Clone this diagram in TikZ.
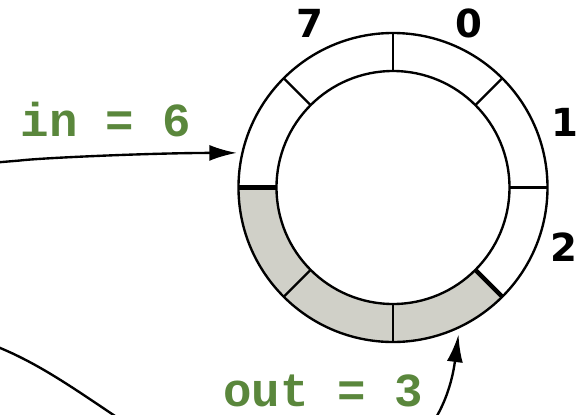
\documentclass[tikz,border=0pt]{standalone}
\usepackage{fontspec}
\usetikzlibrary{arrows.meta, calc}
\newfontfamily\ptrfont{Liberation Mono}
\newfontfamily\digitfont{DejaVu Sans}
\definecolor{bufGreen}{HTML}{5A873C}
\definecolor{bufGray}{HTML}{D0D0C8}
\tikzset{
  ringline/.style={line width=1.35pt, draw=black},
  slotedge/.style={line width=2.6pt, draw=black},
  ptrlabel/.style={font=\ptrfont\bfseries\fontsize{27}{30}\selectfont, text=bufGreen, inner sep=0pt},
  slotnum/.style={font=\digitfont\bfseries\fontsize{22}{26}\selectfont, inner sep=0pt},
  ptrflow/.style={-{Latex[length=0.55cm, width=0.32cm]}, line width=1.35pt},
}

\begin{document}
\begin{tikzpicture}[x=0.02cm, y=0.02cm]
  \useasboundingbox (0,0) rectangle (586,414);
  \coordinate (ring) at (393,226.5);
  % filled slots 3, 4 and 5
  \fill[bufGray] ($(ring)+(180:154.5)$) arc[start angle=180, end angle=315, radius=154.5]
    -- ($(ring)+(315:116.5)$) arc[start angle=315, end angle=180, radius=116.5] -- cycle;
  \draw[ringline] (ring) circle[radius=154.5];
  \draw[ringline] (ring) circle[radius=116.5];
  \foreach \a in {90,45,0,-90,-135,135}
    \draw[ringline] ($(ring)+(\a:116.5)$) -- ($(ring)+(\a:154.5)$);
  \foreach \a in {180,-45}
    \draw[slotedge] ($(ring)+(\a:116.5)$) -- ($(ring)+(\a:154.5)$);
  \node[slotnum] (n7) at (310,391) {7};
  \node[slotnum] (n0) at (469,391) {0};
  \node[slotnum] (n1) at (565,292) {1};
  \node[slotnum] (n2) at (564,167) {2};
  \node[ptrlabel] (inlabel) at (106,294) {in = 6};
  \node[ptrlabel] (outlabel) at (323,23) {out = 3};
  % pointers, both coming from outside the picture
  \begin{scope}
    \clip (0,0) rectangle (586,414);
    \coordinate (inFrom) at (-10,251);
    \coordinate (inTip) at ($(ring)+(167.5:160)$);
    \coordinate (outFrom) at (-10,70);
    \coordinate (outTip) at ($(ring)+(-66:161)$);
    \draw[ptrflow] (inFrom) -- (20,253.5) .. controls (40,256) and (150,261) .. (inTip);
    \draw[ptrflow] (outFrom) .. controls (90,33) and (160,-60) .. (280,-70)
      .. controls (410,-80) and (448,0) .. (outTip);
  \end{scope}
\end{tikzpicture}
\end{document}
